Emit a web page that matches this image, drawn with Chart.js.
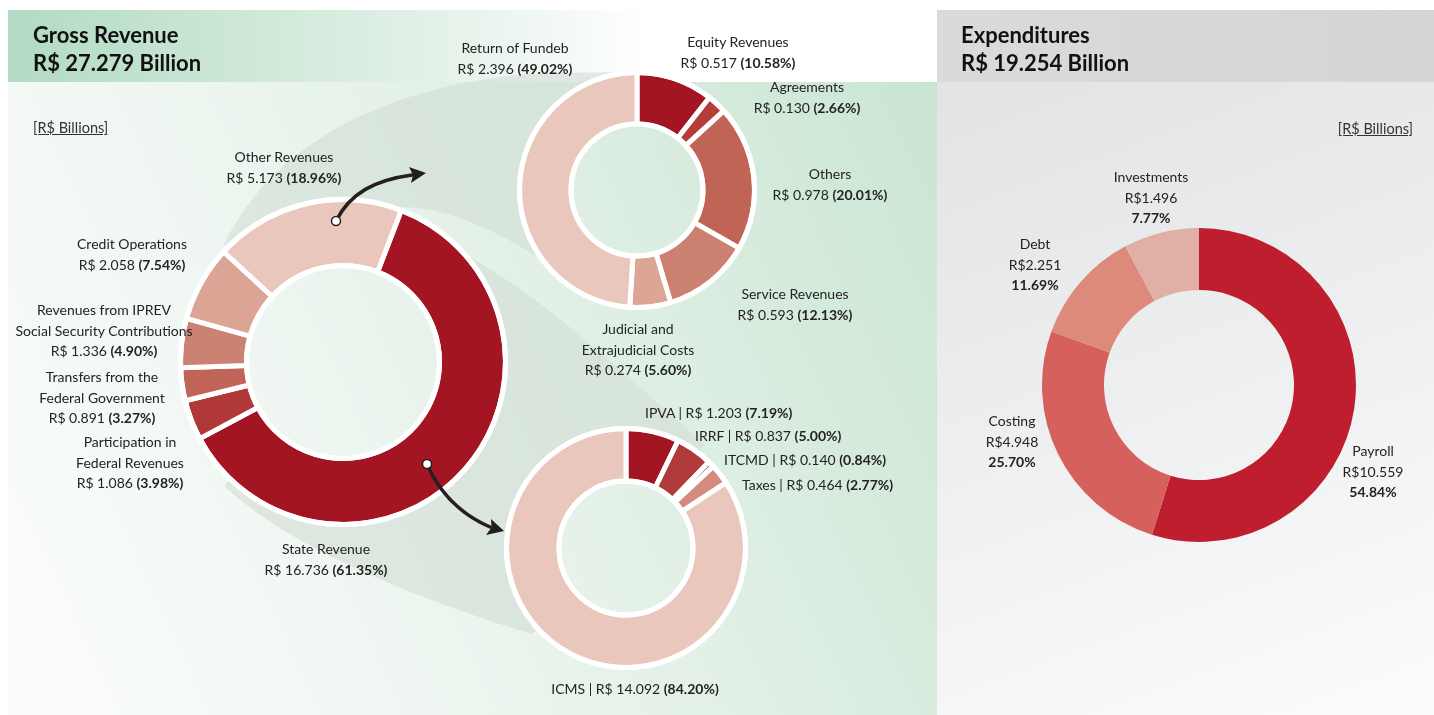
<!DOCTYPE html>
<html>
<head>
<meta charset="utf-8">
<script src="https://cdn.jsdelivr.net/npm/chart.js@4.4.1/dist/chart.umd.min.js"></script>
<style>
  html, body { margin: 0; padding: 0; background: #fff; }
  body { width: 1434px; height: 715px; position: relative; overflow: hidden;
         font-family: Lato, "Open Sans", sans-serif; color: #232323; }
  .abs { position: absolute; }
  #leftHead { left: 8px; top: 10px; width: 929px; height: 72px;
    background: linear-gradient(90deg, #b2dac2 0px, #d0e9d9 260px, #eaf4ee 480px, #ffffff 640px); }
  #leftBody { left: 8px; top: 82px; width: 929px; height: 633px;
    background: linear-gradient(65deg, #fbfdfc 0%, #f1f7f3 30%, #e2f0e6 60%, #c9e5d2 100%); }
  #rightHead { left: 937px; top: 10px; width: 497px; height: 72px;
    background: linear-gradient(90deg, #d9dadc, #d4d5d7); }
  #rightBody { left: 937px; top: 82px; width: 497px; height: 633px;
    background: linear-gradient(160deg, #e2e3e5 0%, #edeef0 45%, #fcfcfc 100%); }
  .title { font-weight: 700; font-size: 22px; line-height: 28px; color: #111; }
  .unit { font-size: 14.5px; text-decoration: underline; color: #333; white-space: nowrap; }
  .lbl { font-size: 14px; line-height: 20.5px; white-space: nowrap; }
  .lbl.c { transform: translateX(-50%); text-align: center; }
  .lbl b { font-weight: 700; }
  canvas { position: absolute; }
  svg { position: absolute; left: 0; top: 0; }
</style>
</head>
<body>
<div id="leftHead" class="abs"></div>
<div id="leftBody" class="abs"></div>
<div id="rightHead" class="abs"></div>
<div id="rightBody" class="abs"></div>

<svg width="1434" height="715" id="funnels">
  <defs>
    <mask id="holes">
      <rect x="0" y="0" width="1434" height="715" fill="#fff"/>
      <circle cx="343" cy="362" r="96" fill="#000"/>
      <circle cx="637" cy="190" r="65" fill="#000"/>
      <circle cx="626" cy="548" r="66" fill="#000"/>
    </mask>
  </defs>
  <g mask="url(#holes)" fill="#d2dfd6" fill-opacity="0.65">
    <path d="M343 362 L224 244 C 283 125, 420 80, 545 73 L637 72 L637 190 L640 310 C 560 282, 490 208, 400 207 Z"/>
    <path d="M343 362 L470 257 C 545 300, 615 365, 705 445 L626 548 L532 634 C 460 612, 400 590, 330 556 C 290 536, 255 514, 224 486 Z"/>
  </g>
</svg>

<canvas id="mainChart"></canvas>
<canvas id="otherChart"></canvas>
<canvas id="stateChart"></canvas>
<canvas id="expChart"></canvas>

<svg width="1434" height="715" id="arrows">
  <g stroke="#231f20" stroke-width="3.5" fill="none" stroke-linecap="round">
    <path d="M336 221 C 350 193, 375 180, 412 175"/>
    <path d="M427 464 C 440 494, 460 514, 490 527"/>
  </g>
  <g fill="#231f20">
    <polygon points="426,173 409,167 413,175 411,183"/>
    <polygon points="504,531 491,519 491.5,527.5 486,535"/>
  </g>
  <g fill="#fff" stroke="#231f20" stroke-width="1.5">
    <circle cx="336" cy="221" r="4.5"/>
    <circle cx="427" cy="464" r="4.5"/>
  </g>
</svg>

<div class="abs title" style="left:33px; top:21px;">Gross Revenue<br>R$ 27.279 Billion</div>
<div class="abs title" style="left:961px; top:21px;">Expenditures<br>R$ 19.254 Billion</div>
<div class="abs unit" style="left:33px; top:119px;">[R$ Billions]</div>
<div class="abs unit" style="right:21px; top:120px;">[R$ Billions]</div>
<div id="labels"></div>

<script>
// Receita bruta (rosca principal)
const mainCategories = ['State Revenue', 'Participation in|Federal Revenues', 'Transfers from the|Federal Government',
  'Revenues from IPREV|Social Security Contributions', 'Credit Operations', 'Other Revenues'];
const mainValues = [16.736, 1.086, 0.891, 1.336, 2.058, 5.173];
const mainShares = ['61.35%', '3.98%', '3.27%', '4.90%', '7.54%', '18.96%'];

// Outras receitas
const otherCategories = ['Equity Revenues', 'Agreements', 'Others', 'Service Revenues',
  'Judicial and|Extrajudicial Costs', 'Return of Fundeb'];
const otherValues = [0.517, 0.130, 0.978, 0.593, 0.274, 2.396];
const otherShares = ['10.58%', '2.66%', '20.01%', '12.13%', '5.60%', '49.02%'];

// Receita estadual
const stateCategories = ['IPVA', 'IRRF', 'ITCMD', 'Taxes', 'ICMS'];
const stateValues = [1.203, 0.837, 0.140, 0.464, 14.092];
const stateShares = ['7.19%', '5.00%', '0.84%', '2.77%', '84.20%'];

// Despesas
const expCategories = ['Payroll', 'Costing', 'Debt', 'Investments'];
const expValues = [10.559, 4.948, 2.251, 1.496];
const expShares = ['54.84%', '25.70%', '11.69%', '7.77%'];

// posições dos rótulos [x, y da primeira linha]
const mainLabelPos = [[326, 549], [130, 442], [102, 377], [104, 310], [132, 244], [284, 157]];
const otherLabelPos = [[738, 42], [807, 87], [830, 174], [795, 294], [638, 329], [515, 48]];
const stateLabelPos = [[645, 413], [695, 436], [724, 460], [742, 485], [635, 689]];
const expLabelPos = [[1373, 451], [1012, 421], [1035, 244], [1151, 177]];

const mainColors = ['#a31523', '#b03838', '#bf6456', '#cc8273', '#dca495', '#e9c7bc'];
const otherColors = ['#a31523', '#b63c3a', '#c06555', '#cc8070', '#dca595', '#e9c7bc'];
const stateColors = ['#a31523', '#b03a3a', '#c06555', '#d48b7d', '#e9c7bc'];
const expColors = ['#be1e2d', '#d6605c', '#dd8a7a', '#e0b0a7'];

// anel branco externo e interno
const ringPlugin = {
  id: 'rings',
  afterDatasetsDraw(chart, args, opts) {
    if (!opts.width) return;
    const arc = chart.getDatasetMeta(0).data[0];
    const p = arc.getProps(['x', 'y', 'outerRadius', 'innerRadius'], true);
    const ctx = chart.ctx;
    ctx.save();
    ctx.strokeStyle = '#fff';
    ctx.lineWidth = opts.width;
    ctx.beginPath();
    ctx.arc(p.x, p.y, p.outerRadius, 0, Math.PI * 2);
    ctx.stroke();
    ctx.beginPath();
    ctx.arc(p.x, p.y, p.innerRadius, 0, Math.PI * 2);
    ctx.stroke();
    ctx.restore();
  }
};

function makeDonut(id, cx, cy, size, values, colors, radius, cut, border, rotation) {
  const canvas = document.getElementById(id);
  canvas.width = size;
  canvas.height = size;
  canvas.style.left = (cx - size / 2) + 'px';
  canvas.style.top = (cy - size / 2) + 'px';
  return new Chart(canvas.getContext('2d'), {
    type: 'doughnut',
    data: {
      labels: values.map(String),
      datasets: [{
        data: values,
        backgroundColor: colors,
        borderColor: '#fff',
        borderWidth: border
      }]
    },
    options: {
      responsive: false,
      animation: false,
      radius: radius,
      cutout: (cut / radius * 100) + '%',
      rotation: rotation,
      layout: { padding: 0 },
      plugins: {
        legend: { display: false },
        tooltip: { enabled: false },
        rings: { width: border }
      }
    },
    plugins: [ringPlugin]
  });
}

makeDonut('mainChart', 343, 362, 340, mainValues, mainColors, 162.5, 96.5, 5, 21);
makeDonut('otherChart', 637, 190, 250, otherValues, otherColors, 117.5, 66, 5, 0);
makeDonut('stateChart', 626, 548, 254, stateValues, stateColors, 119.5, 67, 5, 0);
makeDonut('expChart', 1199, 385, 320, expValues, expColors, 157, 95, 0, 0);

// rótulos
const box = document.getElementById('labels');
function addLabel(x, y, html, centered) {
  const d = document.createElement('div');
  d.className = 'abs lbl' + (centered ? ' c' : '');
  d.style.left = x + 'px';
  d.style.top = (y - 10) + 'px';
  d.innerHTML = html;
  box.appendChild(d);
}
const money = v => 'R$ ' + v.toFixed(3);

mainCategories.forEach((c, i) => {
  addLabel(mainLabelPos[i][0], mainLabelPos[i][1],
    c.split('|').join('<br>') + '<br>' + money(mainValues[i]) + ' <b>(' + mainShares[i] + ')</b>', true);
});
otherCategories.forEach((c, i) => {
  addLabel(otherLabelPos[i][0], otherLabelPos[i][1],
    c.split('|').join('<br>') + '<br>' + money(otherValues[i]) + ' <b>(' + otherShares[i] + ')</b>', true);
});
stateCategories.forEach((c, i) => {
  const last = i === stateCategories.length - 1;
  addLabel(stateLabelPos[i][0], stateLabelPos[i][1],
    c + ' | ' + money(stateValues[i]) + ' <b>(' + stateShares[i] + ')</b>', last);
});
expCategories.forEach((c, i) => {
  addLabel(expLabelPos[i][0], expLabelPos[i][1],
    c + '<br>R$' + expValues[i].toFixed(3) + '<br><b>' + expShares[i] + '</b>', true);
});
</script>
</body>
</html>
